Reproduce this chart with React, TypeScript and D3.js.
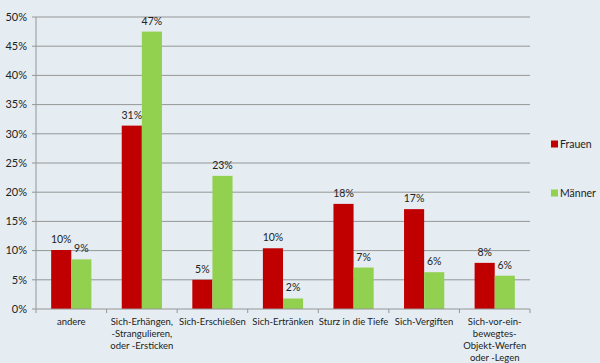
import React, { useRef, useEffect } from "react";
import * as d3 from "d3";

const categories = [
  ["andere"],
  ["Sich-Erhängen,", "-Strangulieren,", "oder -Ersticken"],
  ["Sich-Erschießen"],
  ["Sich-Ertränken"],
  ["Sturz in die Tiefe"],
  ["Sich-Vergiften"],
  ["Sich-vor-ein-", "bewegtes-", "Objekt-Werfen", "oder -Legen"],
];
const frauen = [10.1, 31.4, 5.0, 10.4, 18.0, 17.1, 7.9];
const maenner = [8.5, 47.5, 22.8, 1.8, 7.1, 6.3, 5.7];
const frauenLabels = ["10%", "31%", "5%", "10%", "18%", "17%", "8%"];
const maennerLabels = ["9%", "47%", "23%", "2%", "7%", "6%", "6%"];
const yTicks = [0, 5, 10, 15, 20, 25, 30, 35, 40, 45, 50];
const seriesNames = ["Frauen", "Männer"];
const colors = ["#c00000", "#92d050"];

const W = 600;
const H = 363;
const FONT = "Lato, 'Open Sans', sans-serif";

export default function App() {
  const ref = useRef<SVGSVGElement>(null);

  useEffect(() => {
    const svg = d3.select(ref.current);
    svg.selectAll("*").remove();

    const left = 36, right = 530, top = 17, bottom = 309;

    svg.append("rect").attr("width", W).attr("height", H).attr("fill", "#e5edf3");

    const x = d3.scaleBand<number>().domain(d3.range(categories.length)).range([left, right]).paddingInner(0).paddingOuter(0);
    const inner = d3.scaleBand<number>().domain([0, 1]).range([0, x.bandwidth() * 0.57]);
    const y = d3.scaleLinear().domain([0, 50]).range([bottom, top]);

    // gridlines
    svg.append("g").selectAll("line").data(yTicks.slice(1)).join("line")
      .attr("x1", left).attr("x2", right)
      .attr("y1", (d) => y(d)).attr("y2", (d) => y(d))
      .attr("stroke", "#969696").attr("stroke-width", 1);

    // y tick labels
    svg.append("g").selectAll("text").data(yTicks).join("text")
      .attr("x", 27).attr("y", (d) => y(d)).attr("dy", "0.35em")
      .attr("text-anchor", "end").attr("font-family", FONT).attr("font-size", 11)
      .attr("fill", "#222").text((d) => `${d}%`);

    // y axis
    svg.append("line").attr("x1", left).attr("x2", left).attr("y1", top).attr("y2", bottom)
      .attr("stroke", "#969696");
    svg.append("g").selectAll("line").data(yTicks).join("line")
      .attr("x1", left - 4).attr("x2", left).attr("y1", (d) => y(d)).attr("y2", (d) => y(d))
      .attr("stroke", "#969696");

    // bars
    const off = (x.bandwidth() - x.bandwidth() * 0.57) / 2;
    [frauen, maenner].forEach((vals, s) => {
      const labels = s === 0 ? frauenLabels : maennerLabels;
      const g = svg.append("g");
      g.selectAll("rect").data(vals).join("rect")
        .attr("x", (_, i) => (x(i) as number) + off + (inner(s) as number))
        .attr("y", (d) => y(d))
        .attr("width", inner.bandwidth())
        .attr("height", (d) => bottom - y(d))
        .attr("fill", colors[s]);
      g.selectAll("text").data(vals).join("text")
        .attr("x", (_, i) => (x(i) as number) + off + (inner(s) as number) + inner.bandwidth() / 2)
        .attr("y", (d) => y(d) - 7)
        .attr("text-anchor", "middle").attr("font-family", FONT).attr("font-size", 10.5)
        .attr("fill", "#222").text((_, i) => labels[i]);
    });

    // x axis
    svg.append("line").attr("x1", left).attr("x2", right).attr("y1", bottom).attr("y2", bottom)
      .attr("stroke", "#969696");
    svg.append("g").selectAll("line").data(d3.range(categories.length + 1)).join("line")
      .attr("x1", (i) => left + i * x.step()).attr("x2", (i) => left + i * x.step())
      .attr("y1", bottom).attr("y2", bottom + 4).attr("stroke", "#969696");

    // category labels
    categories.forEach((lines, i) => {
      const t = svg.append("text")
        .attr("x", (x(i) as number) + x.bandwidth() / 2).attr("y", 325)
        .attr("text-anchor", "middle").attr("font-family", FONT).attr("font-size", 9.5)
        .attr("fill", "#222");
      lines.forEach((l, k) => {
        t.append("tspan").attr("x", (x(i) as number) + x.bandwidth() / 2)
          .attr("dy", k === 0 ? 0 : 12).text(l);
      });
    });

    // legend
    seriesNames.forEach((n, s) => {
      const ly = 144 + s * 49;
      svg.append("rect").attr("x", 551).attr("y", ly - 3.5).attr("width", 7).attr("height", 7).attr("fill", colors[s]);
      svg.append("text").attr("x", 560).attr("y", ly).attr("dy", "0.35em")
        .attr("font-family", FONT).attr("font-size", 10.5).attr("fill", "#222").text(n);
    });
  }, []);

  return (
    <div style={{ position: "absolute", left: 0, top: 0 }}>
      <svg ref={ref} width={W} height={H} style={{ display: "block" }} />
    </div>
  );
}
